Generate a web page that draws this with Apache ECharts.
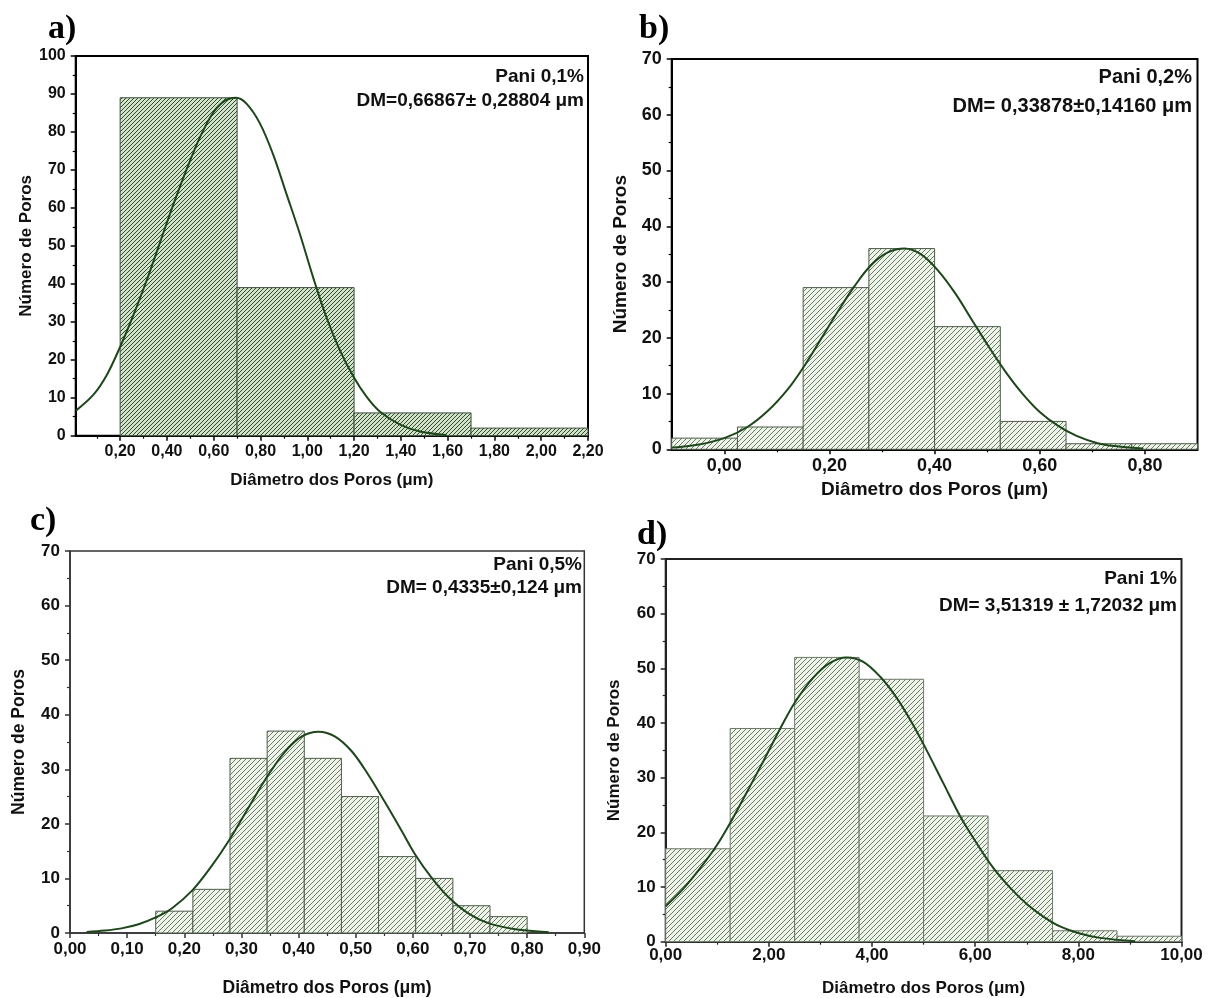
<!DOCTYPE html>
<html>
<head>
<meta charset="utf-8">
<script src="https://cdn.jsdelivr.net/npm/echarts@6/dist/echarts.min.js"></script>
<style>
html,body{margin:0;padding:0;background:#fff;}
#chart{width:1209px;height:998px;}
</style>
</head>
<body>
<div id="chart"></div>
<script>
// ---------- DATA ----------
// Panel a) Pani 0,1%
const edgesA = [0.2, 0.7, 1.2, 1.7, 2.2];
const countsA = [89, 39, 6, 2];
const curveXA = [0.011, 0.086, 0.143, 0.2, 0.257, 0.314, 0.371, 0.428, 0.485, 0.542, 0.599, 0.65, 0.695, 0.741, 0.798, 0.855, 0.912, 0.969, 1.026, 1.083, 1.14, 1.197, 1.254, 1.311, 1.397, 1.482, 1.596];
const curveYA = [6.6, 10.8, 16.0, 23.4, 31.8, 41.0, 51.0, 61.0, 70.3, 78.7, 85.2, 88.3, 89.0, 87.4, 82.2, 73.9, 63.5, 53.0, 41.5, 31.0, 22.4, 15.6, 10.2, 6.3, 2.9, 1.1, 0.2];
const xTicksA = [0.2, 0.4, 0.6, 0.8, 1.0, 1.2, 1.4, 1.6, 1.8, 2.0, 2.2];
const xMinorA = [0.1, 0.3, 0.5, 0.7, 0.9, 1.1, 1.3, 1.5, 1.7, 1.9, 2.1];

// Panel b) Pani 0,2%
const edgesB = [-0.1, 0.025, 0.15, 0.275, 0.4, 0.525, 0.65, 0.775, 0.9];
const countsB = [2, 4, 29, 36, 22, 5, 1, 1];
const curveXB = [-0.1, -0.051, 0, 0.044, 0.083, 0.121, 0.149, 0.184, 0.216, 0.248, 0.279, 0.311, 0.343, 0.375, 0.407, 0.439, 0.471, 0.503, 0.535, 0.567, 0.6, 0.635, 0.67, 0.71, 0.75, 0.797];
const curveYB = [0.3, 0.8, 2.0, 4.0, 6.9, 10.8, 14.5, 19.8, 24.7, 29.3, 33.0, 35.3, 36.0, 34.9, 32.0, 28.0, 23.2, 18.4, 13.9, 10.0, 6.7, 4.2, 2.4, 1.1, 0.5, 0.15];
const xTicksB = [0.0, 0.2, 0.4, 0.6, 0.8];
const xMinorB = [0.1, 0.3, 0.5, 0.7];

// Panel c) Pani 0,5%
const edgesC = [0.15, 0.215, 0.28, 0.345, 0.41, 0.475, 0.54, 0.605, 0.67, 0.735, 0.8];
const countsC = [4, 8, 32, 37, 32, 25, 14, 10, 5, 3];
const curveXC = [0.029, 0.061, 0.09, 0.12, 0.149, 0.178, 0.214, 0.248, 0.279, 0.312, 0.344, 0.376, 0.405, 0.435, 0.464, 0.493, 0.522, 0.551, 0.58, 0.604, 0.633, 0.662, 0.697, 0.732, 0.779, 0.838];
const curveYC = [0.2, 0.45, 0.85, 1.6, 2.8, 4.5, 7.8, 12.3, 17.1, 22.9, 28.5, 33.2, 36.0, 36.9, 36.0, 33.3, 29.0, 24.0, 18.8, 14.4, 10.1, 6.6, 3.6, 1.8, 0.7, 0.15];
const xTicksC = [0.0, 0.1, 0.2, 0.3, 0.4, 0.5, 0.6, 0.7, 0.8, 0.9];
const xMinorC = [0.05, 0.15, 0.25, 0.35, 0.45, 0.55, 0.65, 0.75, 0.85];

// Panel d) Pani 1%
const edgesD = [0, 1.25, 2.5, 3.75, 5, 6.25, 7.5, 8.75, 10];
const countsD = [17, 39, 52, 48, 23, 13, 2, 1];
const curveXD = [0, 0.342, 0.665, 0.988, 1.266, 1.57, 1.893, 2.216, 2.507, 2.862, 3.185, 3.509, 3.831, 4.155, 4.478, 4.8, 5.06, 5.382, 5.706, 6.029, 6.351, 6.675, 6.999, 7.32, 7.644, 8.03, 8.42, 9.1];
const curveYD = [6.5, 9.7, 13.4, 17.6, 22.0, 27.3, 33.0, 38.9, 43.8, 48.3, 51.0, 52.0, 51.2, 48.5, 44.6, 39.6, 35.0, 29.0, 23.0, 18.0, 13.5, 9.9, 6.9, 4.6, 2.8, 1.5, 0.7, 0.1];
const xTicksD = [0, 2, 4, 6, 8, 10];
const xMinorD = [1, 3, 5, 7, 9];

const panelLetters = ['a)', 'b)', 'c)', 'd)'];
const panelNames = ['Pani 0,1%', 'Pani 0,2%', 'Pani 0,5%', 'Pani 1%'];
const panelDM = ['DM=0,66867\u00b1 0,28804 \u03bcm', 'DM= 0,33878\u00b10,14160 \u03bcm', 'DM= 0,4335\u00b10,124 \u03bcm', 'DM= 3,51319 \u00b1 1,72032 \u03bcm'];
const xTitle = 'Di\u00e2metro dos Poros (\u03bcm)';
const yTitle = 'N\u00famero de Poros';

// ---------- STYLE / LAYOUT ----------
const FONT = '"Liberation Sans", Arial, sans-serif';
function hatch(bg, fg, s, lw) {
  const c = document.createElement('canvas');
  c.width = s; c.height = s;
  const g = c.getContext('2d');
  g.fillStyle = bg; g.fillRect(0, 0, s, s);
  g.strokeStyle = fg; g.lineWidth = lw;
  g.beginPath();
  g.moveTo(0, s); g.lineTo(s, 0);
  g.moveTo(-1, 1); g.lineTo(1, -1);
  g.moveTo(s - 1, s + 1); g.lineTo(s + 1, s - 1);
  g.stroke();
  return c;
}
const patDark = hatch('#d3e3cb', '#304b2b', 4, 1);
const patLight = hatch('#eef4ea', '#6a7c66', 5, 1);

const panels = [
  {grid:{left:75.7, top:56, width:512.3, height:379.7}, xmin:0.01, xmax:2.2, ymax:100,
   edges:edgesA, counts:countsA, cx:curveXA, cy:curveYA, ticks:xTicksA, minor:xMinorA, dec:2,
   pat:patDark, barStroke:'#3c4f3a', axisColor:'#000', axisW:2, fs:16, tfs:17, afs:19,
   xGap:36, yGap:38, xMargin:8, annX:584, annY1:77, annY2:101, letter:[48, 29]},
  {grid:{left:671.7, top:59, width:525.8, height:390.3}, xmin:-0.1, xmax:0.9, ymax:70,
   edges:edgesB, counts:countsB, cx:curveXB, cy:curveYB, ticks:xTicksB, minor:xMinorB, dec:2,
   pat:patLight, barStroke:'#4d5c4a', axisColor:'#000', axisW:2, fs:18, tfs:19, afs:20,
   xGap:31, yGap:41, xMargin:8, annX:1192, annY1:77, annY2:106, letter:[639, 29]},
  {grid:{left:70, top:551, width:514.3, height:382.3}, xmin:0, xmax:0.9, ymax:70,
   edges:edgesC, counts:countsC, cx:curveXC, cy:curveYC, ticks:xTicksC, minor:xMinorC, dec:2,
   pat:patLight, barStroke:'#4d5c4a', axisColor:'#333', axisW:1.5, fs:17, tfs:17.5, afs:19,
   xGap:46, yGap:42, xMargin:8, annX:582, annY1:565, annY2:588, letter:[30, 521]},
  {grid:{left:665.7, top:559, width:515.8, height:382.7}, xmin:0, xmax:10, ymax:70,
   edges:edgesD, counts:countsD, cx:curveXD, cy:curveYD, ticks:xTicksD, minor:xMinorD, dec:2,
   pat:patLight, barStroke:'#6a7767', axisColor:'#222', axisW:2, fs:17, tfs:17, afs:19,
   xGap:38, yGap:43, xMargin:5, annX:1177, annY1:579, annY2:606, letter:[637, 535]}
];

const option = {
  animation: false,
  backgroundColor: '#fff',
  grid: [], xAxis: [], yAxis: [], series: [], graphic: []
};

panels.forEach((p, i) => {
  option.grid.push(Object.assign({show:true, borderColor:p.axisColor, borderWidth:p.axisW, backgroundColor:'#fff'}, p.grid));
  const fmt = v => Number(v).toFixed(p.dec).replace('.', ',');
  option.xAxis.push({
    gridIndex:i, type:'value', min:p.xmin, max:p.xmax, position:'bottom',
    name: xTitle, nameLocation:'middle', nameGap:p.xGap,
    nameTextStyle:{fontFamily:FONT, fontWeight:'bold', fontSize:p.tfs, color:'#111'},
    axisLine:{show:true, onZero:false, lineStyle:{color:p.axisColor, width:p.axisW}},
    axisTick:{show:true, inside:false, length:5, customValues:p.ticks, lineStyle:{color:p.axisColor, width:1.5}},
    axisLabel:{show:true, customValues:p.ticks, formatter:fmt, margin:p.xMargin, fontFamily:FONT, fontWeight:'bold', fontSize:p.fs, color:'#111', showMinLabel:true, showMaxLabel:true, hideOverlap:false},
    splitLine:{show:false}
  });
  option.xAxis.push({
    gridIndex:i, type:'value', min:p.xmin, max:p.xmax, position:'bottom',
    axisLine:{show:false, onZero:false},
    axisTick:{show:true, inside:false, length:3, customValues:p.minor, lineStyle:{color:p.axisColor, width:1.2}},
    axisLabel:{show:false}, splitLine:{show:false}
  });
  option.yAxis.push({
    gridIndex:i, type:'value', min:0, max:p.ymax, interval:10,
    name: yTitle, nameLocation:'middle', nameGap:p.yGap,
    nameTextStyle:{fontFamily:FONT, fontWeight:'bold', fontSize:p.tfs, color:'#111'},
    axisLine:{show:true, onZero:false, lineStyle:{color:p.axisColor, width:p.axisW}},
    axisTick:{show:true, inside:false, length:5, lineStyle:{color:p.axisColor, width:1.5}},
    minorTick:{show:true, splitNumber:2, length:3, lineStyle:{color:p.axisColor, width:1.2}},
    axisLabel:{margin:10, fontFamily:FONT, fontWeight:'bold', fontSize:p.fs, color:'#111'},
    splitLine:{show:false}
  });
  const barData = p.counts.map((c, k) => [p.edges[k], p.edges[k + 1], c]);
  const pat = p.pat, stroke = p.barStroke;
  option.series.push({
    type:'custom', xAxisIndex:2 * i, yAxisIndex:i, data:barData,
    encode:{x:[0, 1], y:2}, z:2,
    renderItem:(params, api) => {
      const a = api.coord([api.value(0), api.value(2)]);
      const b = api.coord([api.value(1), 0]);
      return {type:'rect', shape:{x:a[0], y:a[1], width:b[0] - a[0], height:b[1] - a[1]},
        style:{fill:{image:pat, repeat:'repeat'}, stroke:stroke, lineWidth:1}};
    }
  });
  option.series.push({
    type:'line', xAxisIndex:2 * i, yAxisIndex:i, z:5,
    data:p.cx.map((x, k) => [x, p.cy[k]]),
    smooth:0.35, showSymbol:false, symbol:'none',
    lineStyle:{color:'#1d461b', width:2}
  });
  option.graphic.push({type:'text', x:p.annX, y:p.annY1, z:10,
    style:{text:panelNames[i], align:'right', verticalAlign:'middle', fill:'#111',
      font:'bold ' + p.afs + 'px ' + FONT}});
  option.graphic.push({type:'text', x:p.annX, y:p.annY2, z:10,
    style:{text:panelDM[i], align:'right', verticalAlign:'middle', fill:'#111',
      font:'bold ' + p.afs + 'px ' + FONT}});
  option.graphic.push({type:'text', x:p.letter[0], y:p.letter[1], z:10,
    style:{text:panelLetters[i], align:'left', verticalAlign:'middle', fill:'#000',
      font:'bold 34px "Liberation Serif", "Times New Roman", serif'}});
});

const chart = echarts.init(document.getElementById('chart'), null, {renderer:'canvas'});
chart.setOption(option);
</script>
</body>
</html>
